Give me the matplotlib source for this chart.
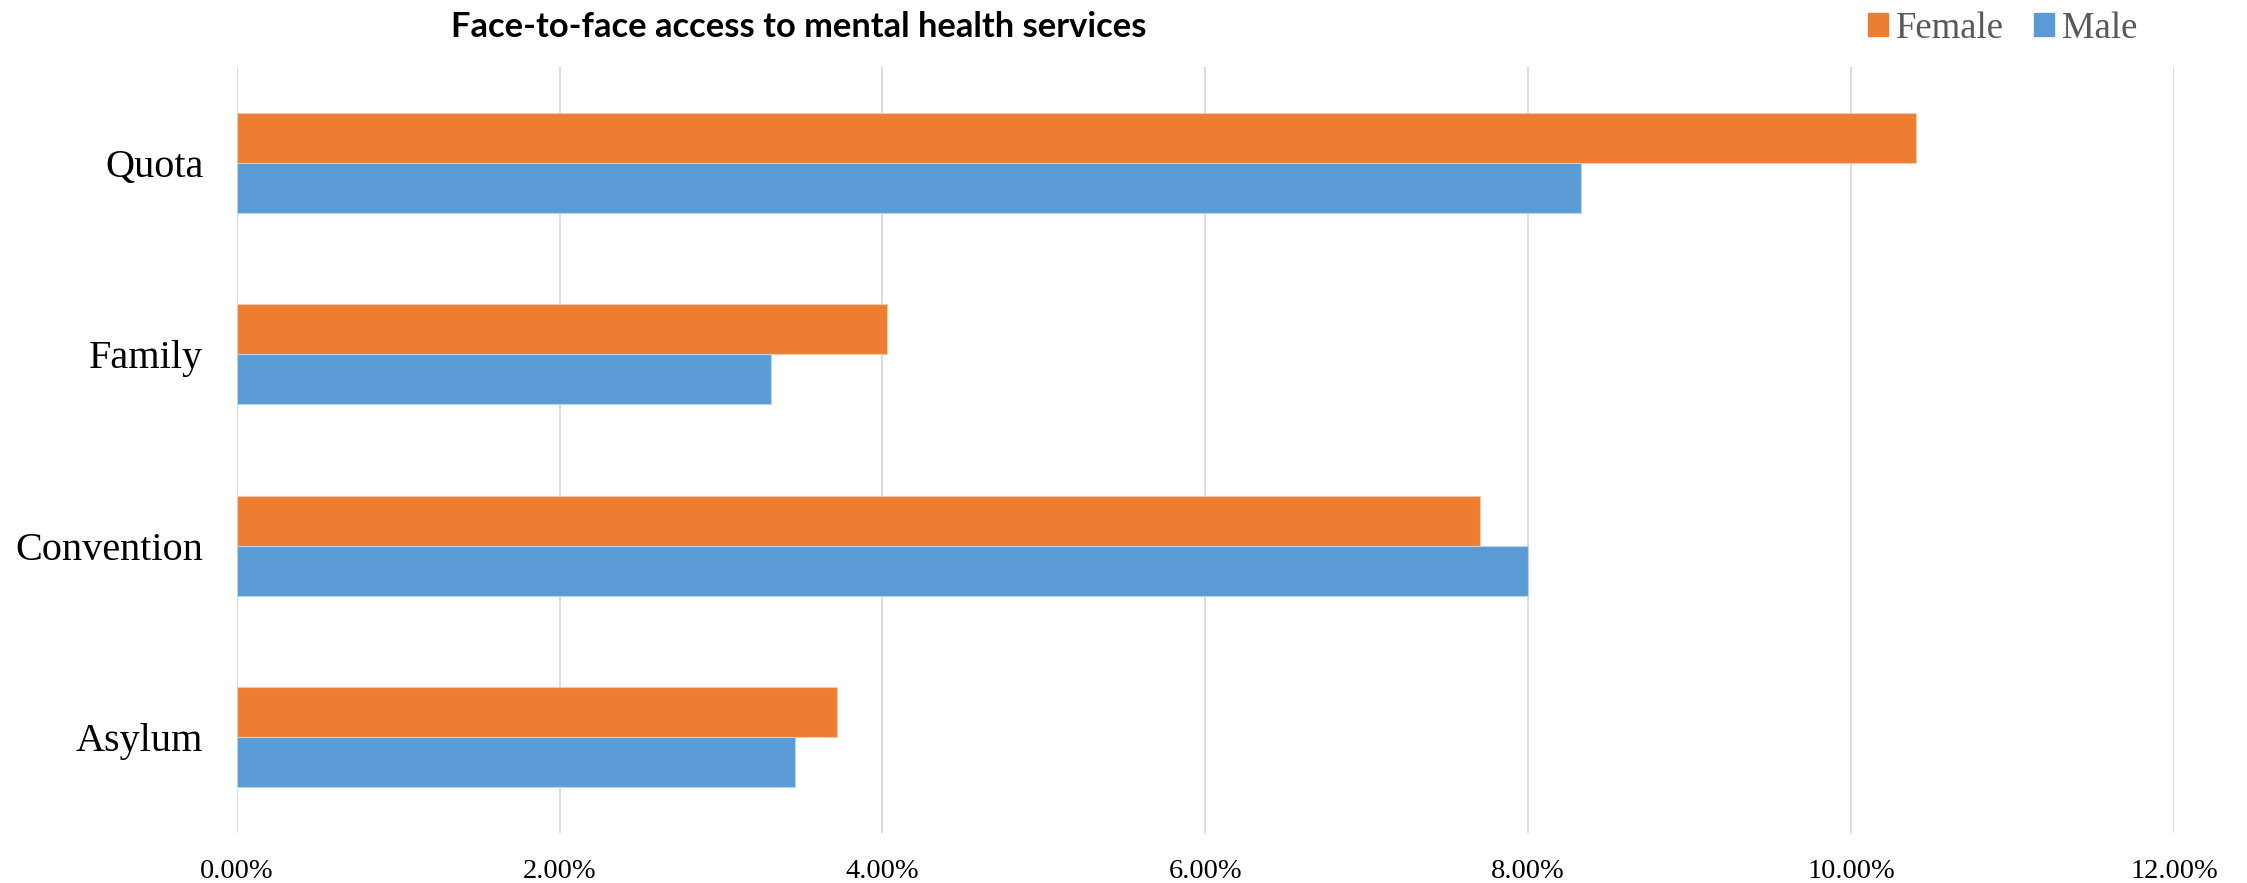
import matplotlib.pyplot as plt
import numpy as np
from matplotlib.ticker import PercentFormatter
from matplotlib.patches import Patch

# data (percent), top to bottom as in the chart
categories = ['Quota', 'Family', 'Convention', 'Asylum']
female = [10.40, 4.03, 7.70, 3.72]
male = [8.33, 3.31, 8.00, 3.46]
xticks = [0, 2, 4, 6, 8, 10, 12]

orange = '#ED7D31'
blue = '#5B9BD5'

fig = plt.figure(figsize=(22.47, 8.83), dpi=100)
ax = fig.add_axes([0.1053, 0.0566, 0.9675 - 0.1053, 0.9241 - 0.0566])

y = np.arange(len(categories))
h = 0.26
ax.barh(y - h / 2, female, height=h, color=orange, edgecolor='#f7c7a8', linewidth=0.8, zorder=3)
ax.barh(y + h / 2, male, height=h, color=blue, edgecolor='#b9d3ee', linewidth=0.8, zorder=3)

ax.set_ylim(len(categories) - 0.5, -0.5)
ax.set_xlim(0, 12)
ax.set_xticks(xticks)
ax.xaxis.set_major_formatter(PercentFormatter(xmax=100, decimals=2))
ax.set_yticks(y)
ax.set_yticklabels(categories, fontfamily='Liberation Serif', fontsize=29, color='black')
for lab in ax.get_xticklabels():
    lab.set_fontfamily('Liberation Serif')
    lab.set_fontsize(20.5)
    lab.set_color('black')
ax.tick_params(axis='both', length=0)
ax.tick_params(axis='y', pad=24)
ax.tick_params(axis='x', pad=19)
ax.grid(axis='x', color='#d9d9d9', linewidth=1.3, zorder=0)
for s in ax.spines.values():
    s.set_visible(False)

fig.text(0.3555, 0.9695, 'Face-to-face access to mental health services',
         ha='center', va='center', fontfamily='Lato', fontweight='bold', fontsize=24.8)

handles = [Patch(color=orange, label='Female'), Patch(color=blue, label='Male')]
fig.legend(handles=handles, loc='center left', bbox_to_anchor=(1868 / 2247, 0.968),
           ncol=2, frameon=False, borderpad=0, borderaxespad=0,
           handlelength=0.55, handleheight=0.55, handletextpad=0.22, columnspacing=0.8,
           prop={'family': 'Liberation Serif', 'size': 26.5}, labelcolor='#595959')

fig.savefig('out.png', dpi=100)
